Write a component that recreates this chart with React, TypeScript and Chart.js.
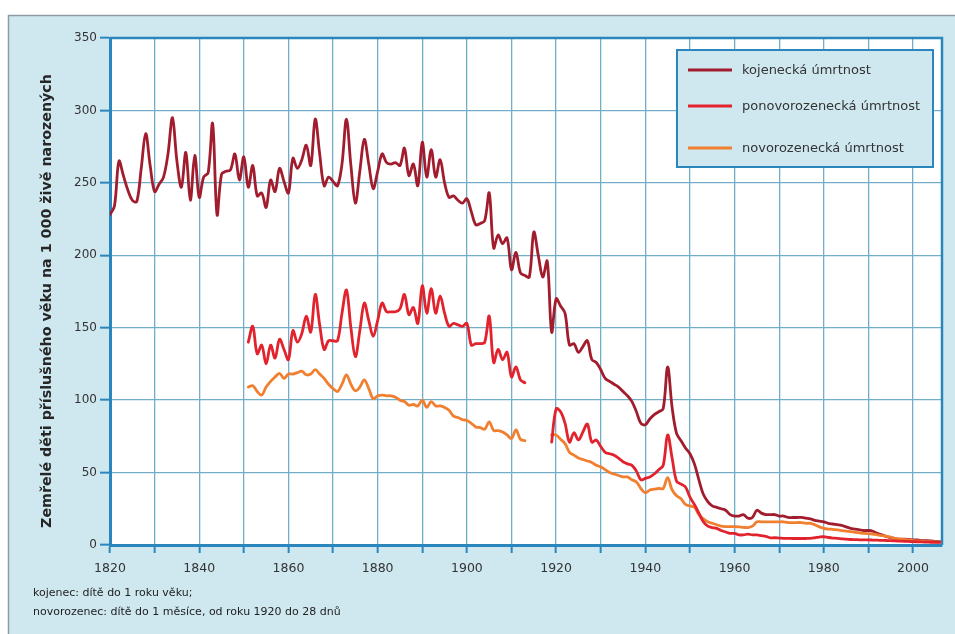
import React, { useEffect, useRef } from 'react';
import { Chart, registerables } from 'chart.js';

Chart.register(...registerables);

// ---------- data ----------
const infantStartYear = 1820;
const infantMortality = [
  228, 234, 265, 255, 245, 238, 237, 260, 284, 262, // 1820-1829
  244, 249, 254, 270, 295, 265, 247, 271, 238, 269, // 1830-1839
  240, 254, 257, 291, 228, 256, 258, 259, 270, 252, // 1840-1849
  268, 247, 262, 241, 243, 233, 252, 244, 260, 251, // 1850-1859
  243, 267, 260, 266, 276, 262, 294, 270, 248, 254, // 1860-1869
  251, 248, 263, 294, 262, 236, 258, 280, 263, 246, // 1870-1879
  258, 270, 264, 263, 264, 262, 274, 255, 263, 248, // 1880-1889
  278, 254, 273, 254, 266, 250, 240, 241, 238, 236, // 1890-1899
  239, 230, 221, 222, 224, 243, 205, 214, 208, 212, // 1900-1909
  190, 202, 188, 186, 185, 216, 200, 185, 196, 147, // 1910-1919
  170, 165, 160, 138, 139, 133, 137, 141, 128, 126, // 1920-1929
  121, 115, 113, 111, 109, 106, 103, 99, 92, 84,    // 1930-1939
  83, 87, 90, 92, 94, 123, 95, 77, 72, 67,          // 1940-1949
  63, 56, 45, 35, 30, 27, 26, 25, 24, 21,           // 1950-1959
  20, 20, 21, 18.5, 19, 24, 22, 21, 21, 21,         // 1960-1969
  20, 20, 19, 19, 19, 19, 18.5, 18, 17, 16.5,       // 1970-1979
  16, 15, 14.5, 14, 13.5, 12.5, 11.5, 11, 10.5, 10, // 1980-1989
  10, 9.5, 8, 7, 6, 5, 4.5, 4, 4, 3.8,              // 1990-1999
  3.5, 3.5, 3, 3, 2.8, 2.5, 2.3,                    // 2000-2006
];

const firstPeriodStartYear = 1851;
const postNeonatalFirst = [
  140, 151, 132, 138, 125, 138, 129, 142, 135,      // 1851-1859
  128, 148, 140, 146, 158, 147, 173, 152, 135, 141, // 1860-1869
  141, 141, 160, 176, 150, 130, 148, 167, 155, 144, // 1870-1879
  155, 167, 161, 161, 161, 163, 173, 159, 164, 153, // 1880-1889
  179, 160, 177, 160, 172, 160, 151, 153, 152, 151, // 1890-1899
  153, 138, 139, 139, 140, 158, 126, 135, 128, 133, // 1900-1909
  116, 123, 114, 112,                               // 1910-1913
];
const neonatalFirst = [
  109, 110, 106, 103.5, 109, 113, 116, 118.5, 115,  // 1851-1859
  118, 118, 119, 120, 117.5, 118, 121, 118, 115, 111, // 1860-1869
  108, 106, 111, 117.5, 111, 106.5, 109, 114, 108, 101, // 1870-1879
  103, 103.5, 103, 103, 102, 100, 99, 96.5, 97, 96, // 1880-1889
  100, 95, 99, 96, 96, 95, 93, 89, 88, 86.5,        // 1890-1899
  86, 84, 81.5, 81, 80, 85, 79, 79, 78, 76,         // 1900-1909
  73.5, 79.5, 73, 72,                               // 1910-1913
];

const secondPeriodStartYear = 1919;
const postNeonatalSecond = [
  71,                                               // 1919
  94, 92, 84, 71, 77.5, 72.5, 78, 83.5, 71, 72.5,   // 1920-1929
  68, 64, 63, 62, 60, 57.5, 56, 55, 51, 45,         // 1930-1939
  46, 47, 49, 52, 55, 76, 60, 44, 42, 40,           // 1940-1949
  33, 28, 22, 16, 13, 12, 11.5, 10, 9, 8,           // 1950-1959
  8, 7, 7, 7.5, 7, 7, 6.5, 6, 5, 5,                 // 1960-1969
  4.8, 4.6, 4.6, 4.5, 4.5, 4.5, 4.5, 4.6, 5, 5.5,   // 1970-1979
  5.7, 5.2, 4.8, 4.6, 4.3, 4, 3.8, 3.7, 3.6, 3.5,   // 1980-1989
  3.5, 3.4, 3.3, 3.2, 3.1, 3, 2.8, 2.7, 2.6, 2.5,   // 1990-1999
  2.3, 2.2, 2.1, 2, 1.9, 1.8, 1.8,                  // 2000-2006
];
const neonatalSecond = [
  76,                                               // 1919
  76, 73, 70, 64, 62, 60, 59, 58, 57, 55,           // 1920-1929
  54, 52, 50, 49, 48, 47, 47, 45, 43.5, 39,         // 1930-1939
  36, 38, 38.5, 39, 39, 46.5, 38, 34, 32, 28,       // 1940-1949
  27, 26, 21, 18, 16, 15, 14, 13, 12.7, 12.7,       // 1950-1959
  12.7, 12.5, 12.2, 12, 13, 16, 16, 16, 16, 16,     // 1960-1969
  16, 16, 15.5, 15.5, 15.5, 15.5, 15, 15, 14, 12.5, // 1970-1979
  11.5, 11, 10.8, 10.4, 10, 9.6, 9.2, 8.8, 8.4, 8,  // 1980-1989
  7.8, 7.6, 7, 6.5, 6, 5.5, 4.5, 4, 3.9, 3.5,       // 1990-1999
  3, 2.8, 2.6, 2.4, 2.3, 2.1, 2,                    // 2000-2006
];

const seriesLabels = ['kojenecká úmrtnost', 'ponovorozenecká úmrtnost', 'novorozenecká úmrtnost'];
const seriesColors = ['#a11d2e', '#e2222c', '#f07f30'];

const xGridYears = [1820, 1830, 1840, 1850, 1860, 1870, 1880, 1890, 1900, 1910, 1920, 1930, 1940, 1950, 1960, 1970, 1980, 1990, 2000];
const xLabelYears = [1820, 1840, 1860, 1880, 1900, 1920, 1940, 1960, 1980, 2000];
const yTickValues = [0, 50, 100, 150, 200, 250, 300, 350];

const yAxisTitle = 'Zemřelé děti příslušného věku na 1 000 živě narozených';
const footnotes = ['kojenec: dítě do 1 roku věku;', 'novorozenec: dítě do 1 měsíce, od roku 1920 do 28 dnů'];

// ---------- helpers ----------
const toPoints = (start: number, values: number[]) => values.map((v, i) => ({ x: start + i, y: v }));
const withGap = (startA: number, a: number[], startB: number, b: number[]) => [
  ...toPoints(startA, a),
  { x: startA + a.length, y: null as any },
  ...toPoints(startB, b),
];

const FONT = '"DejaVu Sans", Verdana, sans-serif';
const AXIS_BLUE = '#2a86bd';
const GRID_BLUE = '#72aec7';
const PANEL_BG = '#cfe8f0';

const W = 955;
const H = 634;

const decorPlugin = {
  id: 'decor',
  beforeDraw(chart: any) {
    const { ctx, chartArea } = chart;
    ctx.save();
    ctx.fillStyle = '#ffffff';
    ctx.fillRect(0, 0, W, H);
    ctx.fillStyle = PANEL_BG;
    ctx.fillRect(8, 15, W - 8, H - 15);
    ctx.strokeStyle = '#8f9ba4';
    ctx.lineWidth = 1.5;
    ctx.beginPath();
    ctx.moveTo(8.5, H);
    ctx.lineTo(8.5, 15.5);
    ctx.lineTo(W, 15.5);
    ctx.stroke();
    ctx.fillStyle = '#ffffff';
    ctx.fillRect(chartArea.left, chartArea.top, chartArea.right - chartArea.left, chartArea.bottom - chartArea.top);
    ctx.restore();
  },
  beforeDatasetsDraw(chart: any) {
    const { ctx, chartArea } = chart;
    ctx.save();
    ctx.strokeStyle = AXIS_BLUE;
    ctx.lineWidth = 2.5;
    ctx.beginPath();
    ctx.moveTo(chartArea.left, chartArea.top);
    ctx.lineTo(chartArea.right, chartArea.top);
    ctx.lineTo(chartArea.right, chartArea.bottom);
    ctx.stroke();
    ctx.restore();
  },
  afterDraw(chart: any) {
    const { ctx } = chart;
    ctx.save();
    // y axis title
    ctx.font = `bold 12px ${FONT}`;
    const w12 = ctx.measureText(yAxisTitle).width;
    const size = (12 * 454) / w12;
    ctx.font = `bold ${size.toFixed(2)}px ${FONT}`;
    ctx.fillStyle = '#262626';
    ctx.textAlign = 'center';
    ctx.textBaseline = 'middle';
    ctx.translate(47, 301);
    ctx.rotate(-Math.PI / 2);
    ctx.fillText(yAxisTitle, 0, 0);
    ctx.restore();

    // legend
    ctx.save();
    ctx.fillStyle = PANEL_BG;
    ctx.fillRect(677, 50, 256, 117);
    ctx.strokeStyle = AXIS_BLUE;
    ctx.lineWidth = 2;
    ctx.strokeRect(677, 50, 256, 117);
    const rows = [70, 106, 148];
    ctx.font = `13px ${FONT}`;
    ctx.textAlign = 'left';
    ctx.textBaseline = 'middle';
    seriesLabels.forEach((label, i) => {
      ctx.strokeStyle = seriesColors[i];
      ctx.lineWidth = 3;
      ctx.beginPath();
      ctx.moveTo(688, rows[i]);
      ctx.lineTo(732, rows[i]);
      ctx.stroke();
      ctx.fillStyle = '#333333';
      ctx.fillText(label, 742, rows[i] + 1);
    });
    ctx.restore();

    // footnotes
    ctx.save();
    ctx.font = `11px ${FONT}`;
    ctx.fillStyle = '#222222';
    ctx.textAlign = 'left';
    ctx.textBaseline = 'middle';
    ctx.fillText(footnotes[0], 33, 593);
    ctx.fillText(footnotes[1], 33, 612);
    ctx.restore();
  },
};

export default function App() {
  const canvasRef = useRef<HTMLCanvasElement | null>(null);

  useEffect(() => {
    if (!canvasRef.current) return;
    const lineStyle = {
      borderWidth: 2.8,
      pointRadius: 0,
      tension: 0.35,
      spanGaps: false,
      borderJoinStyle: 'round' as const,
      borderCapStyle: 'round' as const,
    };
    const chart = new Chart(canvasRef.current, {
      type: 'line',
      data: {
        datasets: [
          {
            label: seriesLabels[0],
            data: toPoints(infantStartYear, infantMortality),
            borderColor: seriesColors[0],
            order: 3,
            ...lineStyle,
          },
          {
            label: seriesLabels[1],
            data: withGap(firstPeriodStartYear, postNeonatalFirst, secondPeriodStartYear, postNeonatalSecond),
            borderColor: seriesColors[1],
            order: 1,
            ...lineStyle,
          },
          {
            label: seriesLabels[2],
            data: withGap(firstPeriodStartYear, neonatalFirst, secondPeriodStartYear, neonatalSecond),
            borderColor: seriesColors[2],
            order: 2,
            ...lineStyle,
          },
        ],
      },
      options: {
        responsive: false,
        animation: false,
        layout: { padding: { left: 0, top: 38, right: 13, bottom: 0 } },
        plugins: { legend: { display: false }, tooltip: { enabled: false } },
        scales: {
          x: {
            type: 'linear',
            min: 1820,
            max: 2006.5,
            afterBuildTicks: (axis: any) => {
              axis.ticks = xGridYears.map((v) => ({ value: v }));
            },
            afterFit: (s: any) => {
              s.height = H - 545;
            },
            ticks: {
              autoSkip: false,
              maxRotation: 0,
              includeBounds: false,
              padding: 8,
              color: '#333333',
              font: { family: FONT, size: 12.5 },
              callback: (v: any) => (xLabelYears.includes(Number(v)) ? String(v) : ''),
            },
            grid: { color: GRID_BLUE, lineWidth: 1.3, tickLength: 8, tickColor: AXIS_BLUE, tickWidth: 2 },
            border: { color: AXIS_BLUE, width: 3 },
          },
          y: {
            min: 0,
            max: 350,
            afterBuildTicks: (axis: any) => {
              axis.ticks = yTickValues.map((v) => ({ value: v }));
            },
            afterFit: (s: any) => {
              s.width = 110;
            },
            ticks: {
              padding: 3,
              color: '#333333',
              font: { family: FONT, size: 12 },
            },
            grid: { color: GRID_BLUE, lineWidth: 1.3, tickLength: 10, tickColor: AXIS_BLUE, tickWidth: 2 },
            border: { color: AXIS_BLUE, width: 3 },
          },
        },
      },
      plugins: [decorPlugin],
    });
    return () => chart.destroy();
  }, []);

  return (
    <div style={{ position: 'absolute', left: 0, top: 0, width: W, height: H, overflow: 'hidden' }}>
      <canvas ref={canvasRef} width={W} height={H} style={{ display: 'block', width: W, height: H }} />
    </div>
  );
}
